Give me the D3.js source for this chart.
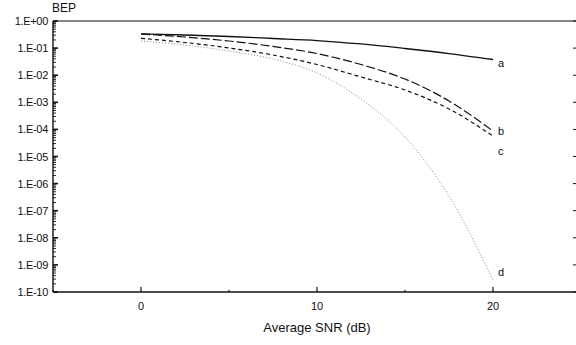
<!DOCTYPE html>
<html>
<head>
<meta charset="utf-8">
<script src="https://cdn.jsdelivr.net/npm/d3@7"></script>
<style>
  body { margin: 0; background: #fff; }
  text { font-family: "Liberation Sans", Arial, sans-serif; fill: #111; }
</style>
</head>
<body>
<div id="chart"></div>
<script>
// data
var snr = [0, 2.5, 5, 7.5, 10, 12.5, 15, 17.5, 20];
var bepA = [0.331, 0.304, 0.268, 0.226, 0.19, 0.142, 0.0966, 0.063, 0.038];
var bepB = [0.331, 0.257, 0.183, 0.115, 0.063, 0.0248, 7.2e-3, 1.12e-3, 8.7e-5];
var bepC = [0.23, 0.161, 0.101, 0.0556, 0.0248, 8.6e-3, 2.84e-3, 5.7e-4, 5.7e-5];
var bepD = [0.183, 0.13, 0.078, 0.0396, 0.012, 1.32e-3, 5.2e-5, 3.5e-7, 2.8e-10];
var seriesNames = ["a", "b", "c", "d"];
var yTickLabels = ["1.E+00", "1.E-01", "1.E-02", "1.E-03", "1.E-04", "1.E-05",
                   "1.E-06", "1.E-07", "1.E-08", "1.E-09", "1.E-10"];
var xTicks = [0, 10, 20];

var width = 576, height = 345;

var svg = d3.select("#chart")
            .append("svg")
              .attr("width", width)
              .attr("height", height);

var x = d3.scaleLinear().domain([-5, 25]).range([53, 581]);
var y = d3.scaleLog().domain([1e-10, 1]).range([292, 21]);

// frame: top line and right side
svg.append("line")
  .attr("x1", x(-5)).attr("x2", x(25))
  .attr("y1", y(1)).attr("y2", y(1))
  .attr("stroke", "#111").attr("stroke-width", 1.2);

// left axis with inward log ticks
var minorY = [];
for (var e = -10; e < 0; e++) {
  for (var m = 1; m < 10; m++) minorY.push(m * Math.pow(10, e));
}
minorY.push(1);

var gy = svg.append("g");
gy.append("line")
  .attr("x1", x(-5)).attr("x2", x(-5))
  .attr("y1", y(1)).attr("y2", y(1e-10))
  .attr("stroke", "#111").attr("stroke-width", 1.4);
gy.selectAll(".ytick")
  .data(minorY)
  .enter().append("line")
    .attr("x1", x(-5))
    .attr("x2", function(d) {
      var major = Math.abs(Math.log10(d) - Math.round(Math.log10(d))) < 1e-9;
      return x(-5) + (major ? 5 : 3);
    })
    .attr("y1", function(d) { return y(d); })
    .attr("y2", function(d) { return y(d); })
    .attr("stroke", "#111")
    .attr("stroke-width", function(d) {
      var major = Math.abs(Math.log10(d) - Math.round(Math.log10(d))) < 1e-9;
      return major ? 1.6 : 0.9;
    });
gy.selectAll(".ylab")
  .data(yTickLabels)
  .enter().append("text")
    .attr("x", 48)
    .attr("y", function(d, i) { return y(Math.pow(10, -i)) + 4; })
    .attr("text-anchor", "end")
    .attr("font-size", 11)
    .attr("letter-spacing", -0.3)
    .text(function(d) { return d; });

// right side ticks (only decades)
svg.selectAll(".rtick")
  .data(d3.range(0, 11))
  .enter().append("line")
    .attr("x1", x(25)).attr("x2", x(25) - 8)
    .attr("y1", function(d) { return y(Math.pow(10, -d)); })
    .attr("y2", function(d) { return y(Math.pow(10, -d)); })
    .attr("stroke", "#111").attr("stroke-width", 1);

// bottom axis
var gx = svg.append("g");
gx.append("line")
  .attr("x1", x(-5)).attr("x2", x(25))
  .attr("y1", y(1e-10)).attr("y2", y(1e-10))
  .attr("stroke", "#111").attr("stroke-width", 1.4);
gx.selectAll(".xtick")
  .data([-5, 0, 5, 10, 15, 20, 25])
  .enter().append("line")
    .attr("x1", function(d) { return x(d); })
    .attr("x2", function(d) { return x(d); })
    .attr("y1", y(1e-10))
    .attr("y2", function(d) { return y(1e-10) - (d % 10 === 0 ? 5 : 2); })
    .attr("stroke", "#111").attr("stroke-width", 1.2);
gx.selectAll(".xlab")
  .data(xTicks)
  .enter().append("text")
    .attr("x", function(d) { return x(d); })
    .attr("y", 310)
    .attr("text-anchor", "middle")
    .attr("font-size", 11)
    .text(function(d) { return d; });

// axis titles
svg.append("text")
  .attr("x", x(10))
  .attr("y", 332)
  .attr("text-anchor", "middle")
  .attr("font-size", 13)
  .text("Average SNR (dB)");

svg.append("text")
  .attr("x", 52)
  .attr("y", 12)
  .attr("font-size", 12)
  .text("BEP");

// curves
var series = [bepA, bepB, bepC, bepD];
var styles = [
  {dash: null, color: "#111", w: 1.3, dy: 8},
  {dash: "9,3", color: "#111", w: 1.2, dy: 4},
  {dash: "4,3", color: "#111", w: 1.2, dy: 19},
  {dash: "1,2", color: "#888", w: 1, dy: -4}
];

var line = d3.line()
  .x(function(d) { return x(d[0]); })
  .y(function(d) { return y(d[1]); })
  .curve(d3.curveMonotoneX);

series.forEach(function(vals, i) {
  var pts = snr.map(function(s, j) { return [s, vals[j]]; });
  svg.append("path")
    .datum(pts)
    .attr("d", line)
    .attr("fill", "none")
    .attr("stroke", styles[i].color)
    .attr("stroke-width", styles[i].w)
    .attr("stroke-dasharray", styles[i].dash);

  var last = pts[pts.length - 1];
  svg.append("text")
    .attr("x", x(last[0]) + 5)
    .attr("y", y(last[1]) + styles[i].dy)
    .attr("font-size", 11)
    .text(seriesNames[i]);
});
</script>
</body>
</html>
